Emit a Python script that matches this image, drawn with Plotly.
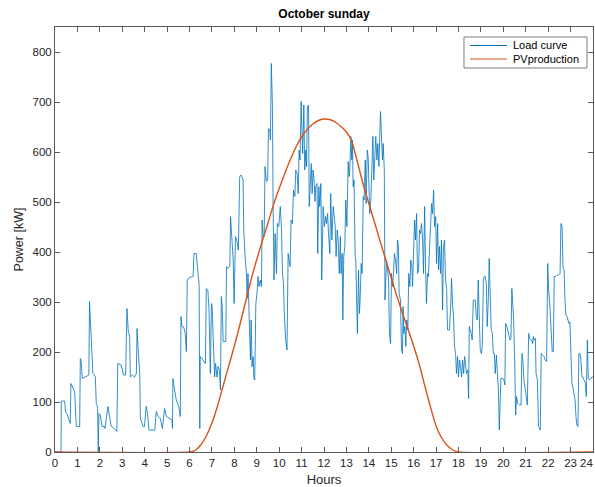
import plotly.graph_objects as go

# Load curve samples: time of day [h] and demand [kW]
load_hours = [
    0.00, 0.27, 0.28, 0.43, 0.47, 0.55, 0.62, 0.68, 0.71, 0.80, 0.875, 0.95, 1.10, 1.13, 1.17, 1.22, 1.35, 1.51, 1.54, 1.58, 1.63, 1.69, 1.75, 1.80, 1.84, 1.90, 1.93,
    1.96, 2.02, 2.10, 2.20, 2.23, 2.36, 2.41, 2.46, 2.51, 2.65, 2.76, 2.80, 2.95, 3.06, 3.15, 3.21, 3.27, 3.33, 3.36, 3.45, 3.55, 3.63, 3.66, 3.72, 3.78, 3.81, 3.93, 3.99,
    4.07, 4.13, 4.19, 4.45, 4.52, 4.60, 4.70, 4.79, 4.89, 4.97, 5.13, 5.22, 5.24, 5.26, 5.31, 5.41, 5.52, 5.59, 5.62, 5.66, 5.74, 5.81, 5.86, 5.90,
    6.00, 6.16, 6.20, 6.30, 6.38, 6.43, 6.46, 6.48, 6.60, 6.71, 6.75, 6.82, 6.87, 6.93, 6.98, 7.01, 7.05, 7.12, 7.16, 7.23, 7.27, 7.34, 7.38, 7.42, 7.46, 7.50, 7.62, 7.65, 7.72, 7.80, 7.83, 7.89, 7.95, 7.99,
    8.05, 8.11, 8.18, 8.24, 8.31, 8.39, 8.42, 8.48, 8.54, 8.57, 8.61, 8.66, 8.72, 8.75, 8.79, 8.84, 8.87, 8.91, 8.96, 9.01, 9.06, 9.10, 9.16, 9.21, 9.24, 9.28, 9.33, 9.37, 9.43, 9.49, 9.52, 9.58, 9.61, 9.65, 9.70, 9.73, 9.77, 9.82, 9.88, 9.92, 9.98,
    10.05, 10.10, 10.15, 10.19, 10.23, 10.29, 10.35, 10.40, 10.44, 10.49, 10.53, 10.59, 10.64, 10.70, 10.74, 10.80, 10.85, 10.89, 10.93, 10.98, 11.02, 11.05, 11.10, 11.14, 11.19, 11.22, 11.26, 11.31, 11.34, 11.38, 11.43, 11.47, 11.51, 11.56, 11.60, 11.63, 11.69, 11.72, 11.77, 11.81, 11.86, 11.90, 11.96,
    12.02, 12.07, 12.11, 12.16, 12.20, 12.26, 12.30, 12.35, 12.41, 12.45, 12.50, 12.54, 12.59, 12.63, 12.68, 12.73, 12.76, 12.81, 12.84, 12.88, 12.93, 12.97, 13.02, 13.08, 13.12, 13.15, 13.20, 13.24, 13.27, 13.30, 13.34, 13.39, 13.42, 13.45, 13.49, 13.54, 13.58, 13.61, 13.66, 13.70, 13.75, 13.79, 13.84, 13.88, 13.93, 13.97,
    14.00, 14.04, 14.09, 14.13, 14.18, 14.22, 14.27, 14.31, 14.36, 14.40, 14.45, 14.49, 14.52, 14.57, 14.61, 14.64, 14.69, 14.72, 14.79, 14.84, 14.88, 14.92, 14.97, 15.01, 15.06, 15.10, 15.14, 15.19, 15.24, 15.28, 15.32, 15.35, 15.41, 15.46, 15.50, 15.53, 15.56, 15.61, 15.65, 15.69, 15.74, 15.78, 15.83, 15.87, 15.92, 15.95, 15.99,
    16.04, 16.08, 16.13, 16.17, 16.22, 16.26, 16.31, 16.35, 16.40, 16.44, 16.49, 16.53, 16.57, 16.62, 16.66, 16.71, 16.75, 16.80, 16.84, 16.89, 16.93, 16.98, 17.02, 17.07, 17.11, 17.15, 17.20, 17.24, 17.29, 17.33, 17.38, 17.42, 17.47, 17.51, 17.56, 17.60, 17.65, 17.69, 17.74, 17.78, 17.82, 17.87, 17.91, 17.96,
    18.00, 18.05, 18.09, 18.14, 18.18, 18.23, 18.27, 18.32, 18.36, 18.41, 18.45, 18.48, 18.52, 18.57, 18.61, 18.66, 18.70, 18.75, 18.79, 18.84, 18.88, 18.93, 18.97, 19.02, 19.06, 19.11, 19.15, 19.19, 19.24, 19.28, 19.33, 19.37, 19.42, 19.46, 19.51, 19.55, 19.60, 19.64, 19.69, 19.73, 19.78, 19.82, 19.87,
    19.89, 19.97, 20.03, 20.07, 20.10, 20.16, 20.22, 20.30, 20.34, 20.38, 20.41, 20.46, 20.50, 20.55, 20.59, 20.64, 20.72, 20.79, 20.83, 20.87, 20.92, 20.96, 21.01, 21.07, 21.13, 21.17, 21.22, 21.27, 21.31, 21.34, 21.38, 21.43, 21.46, 21.52, 21.57, 21.62, 21.65, 21.69, 21.75, 21.81, 21.87, 21.93,
    21.98, 22.02, 22.08, 22.14, 22.18, 22.23, 22.27, 22.35, 22.41, 22.47, 22.53, 22.57, 22.62, 22.66, 22.71, 22.75, 22.79, 22.84, 22.88, 22.93, 22.97, 23.02, 23.06, 23.10, 23.15, 23.20, 23.24, 23.28, 23.33, 23.37, 23.42, 23.46, 23.51, 23.55, 23.60, 23.66, 23.70, 23.75, 23.79, 23.85, 23.90, 23.95, 24.00,
]
load_kw = [
    0, 0, 102, 102, 80, 75, 65, 57, 137, 128, 121, 51, 51, 187, 181, 147, 150, 154, 301, 257, 237, 157, 154, 150, 97, 90, 0,
    77, 74, 51, 51, 47, 91, 77, 71, 51, 47, 41, 177, 174, 154, 154, 287, 241, 231, 150, 154, 150, 157, 247, 197, 157, 67, 51, 51,
    91, 77, 44, 44, 81, 71, 67, 47, 87, 71, 67, 64, 47, 147, 131, 104, 91, 71, 271, 251, 250, 237, 201, 344,
    349, 351, 397, 397, 357, 334, 47, 191, 184, 177, 327, 324, 284, 157, 297, 291, 237, 150, 177, 150, 171, 164, 124, 311, 291, 221, 221, 371, 367, 371, 471, 431, 384, 297,
    431, 424, 404, 551, 554, 544, 444, 391, 357, 307, 357, 271, 184, 264, 171, 191, 150, 144, 297, 317, 351, 331, 344, 331, 464, 431, 431, 571, 541, 544, 647, 644, 624, 777, 691, 491, 344, 437, 357, 457, 451,
    491, 451, 357, 337, 277, 224, 204, 397, 384, 371, 464, 457, 524, 511, 564, 557, 517, 604, 584, 701, 637, 597, 694, 564, 604, 571, 691, 694, 491, 551, 577, 517, 564, 544, 501, 531, 537, 397, 531, 491, 537, 344, 491,
    451, 471, 457, 477, 437, 397, 517, 424, 491, 477, 451, 391, 444, 424, 357, 431, 357, 397, 264, 391, 411, 504, 451, 581, 551, 564, 631, 584, 624, 531, 544, 391, 384, 317, 237, 364, 277, 304, 377, 357, 511, 504, 584, 497, 604, 591,
    544, 477, 504, 557, 631, 544, 591, 631, 584, 617, 571, 644, 681, 624, 584, 617, 564, 304, 384, 364, 344, 237, 217, 357, 331, 357, 397, 384, 357, 424, 411, 317, 304, 204, 197, 291, 237, 251, 211, 264, 244, 357, 331, 384, 371, 331, 384,
    464, 424, 477, 357, 364, 444, 437, 457, 424, 357, 491, 371, 297, 357, 351, 411, 451, 497, 477, 524, 451, 471, 377, 457, 364, 411, 357, 424, 284, 411, 424, 344, 327, 244, 244, 244, 291, 347, 291, 271, 211, 197, 157, 191,
    150, 184, 171, 150, 184, 157, 191, 164, 157, 164, 107, 251, 244, 237, 224, 304, 304, 304, 271, 264, 344, 224, 204, 197, 211, 344, 351, 351, 337, 251, 304, 387, 311, 244, 237, 197, 197, 157, 194, 157, 124, 44, 131,
    147, 147, 144, 134, 257, 251, 237, 224, 227, 327, 304, 264, 197, 74, 111, 97, 94, 94, 197, 184, 144, 131, 104, 94, 237, 227, 224, 224, 217, 231, 224, 227, 157, 144, 51, 44, 44, 197, 194, 191, 184, 181,
    377, 324, 291, 244, 201, 201, 351, 351, 354, 354, 357, 457, 451, 371, 364, 304, 274, 271, 264, 257, 260, 157, 137, 130, 117, 104, 71, 54, 51, 197, 197, 184, 150, 150, 144, 137, 111, 224, 147, 144, 147, 150, 150,
]

# PV production profile [kW]
pv_hours = [0, 6.0, 6.25, 6.5, 6.75, 7.0, 7.25, 7.5, 7.75, 8.0, 8.25, 8.5, 8.75, 9.0, 9.25, 9.5, 9.75,
            10.0, 10.25, 10.5, 10.75, 11.0, 11.25, 11.5, 11.75, 12.0, 12.25, 12.5, 12.75, 13.0, 13.25,
            13.5, 13.75, 14.0, 14.25, 14.5, 14.75, 15.0, 15.25, 15.5, 15.75, 16.0, 16.25, 16.5, 16.75,
            17.0, 17.25, 17.5, 17.75, 18.0, 24]
pv_kw = [0, 0, 3, 14, 32, 58, 92, 132, 172, 212, 255, 300, 345, 385, 422, 458, 495,
         527, 557, 585, 610, 630, 645, 656, 663, 666, 665, 660, 651, 640, 620,
         578, 535, 497, 460, 422, 385, 348, 312, 278, 245, 212, 175, 132, 90,
         52, 28, 13, 4, 0, 0]

hour_ticks = list(range(0, 25))
power_ticks = list(range(0, 900, 100))

FONT = "Liberation Sans, Helvetica, Arial, sans-serif"
AXIS_GREY = "#5a5a5a"
LOAD_COLOR = "#0072BD"
PV_COLOR = "#D95319"

fig = go.Figure()
fig.add_trace(go.Scatter(x=load_hours, y=load_kw, mode="lines", name="Load curve",
                         line=dict(color=LOAD_COLOR, width=0.8), showlegend=False))
fig.add_trace(go.Scatter(x=pv_hours, y=pv_kw, mode="lines", name="PVproduction",
                         line=dict(color=PV_COLOR, width=1.4, shape="spline", smoothing=0.6),
                         showlegend=False))

axis_common = dict(
    showline=True, linecolor=AXIS_GREY, linewidth=1, mirror="ticks",
    ticks="inside", ticklen=5, tickwidth=1, tickcolor=AXIS_GREY,
    showgrid=False, zeroline=False, layer="below traces",
    tickfont=dict(family=FONT, size=11.5, color="#262626"),
)

fig.update_xaxes(range=[0, 24], tickvals=hour_ticks, ticktext=[str(t) for t in hour_ticks[:-1]] + [""],
                 title=dict(text="Hours", font=dict(family=FONT, size=13, color="#262626"), standoff=7),
                 **axis_common)
fig.update_yaxes(range=[0, 850], tickvals=power_ticks,
                 title=dict(text="Power [kW]", font=dict(family=FONT, size=12.5, color="#262626"), standoff=6),
                 **axis_common)

# Last hour label: the axes end at the page border, so keep it just inside the page
annotations = [dict(x=1.0037, y=0, xref="paper", yref="y", text=str(hour_ticks[-1]),
                    showarrow=False, yshift=-11, xanchor="right", yanchor="middle",
                    font=dict(family=FONT, size=11.5, color="#262626"))]

# Boxed legend in the upper-right corner of the axes
shapes = [dict(type="rect", xref="paper", yref="paper", x0=0.7602, x1=0.9888, y0=0.9035, y1=0.9765,
               line=dict(color="#262626", width=0.6), fillcolor="white", layer="above")]
legend_rows = [(fig.data[0].name, LOAD_COLOR, 0.9565), (fig.data[1].name, PV_COLOR, 0.9247)]
for label, color, yrow in legend_rows:
    shapes.append(dict(type="line", xref="paper", yref="paper", x0=0.7714, x1=0.8401, y0=yrow, y1=yrow,
                       line=dict(color=color, width=1.2), layer="above"))
    annotations.append(dict(x=0.8476, y=yrow, xref="paper", yref="paper", text=label, showarrow=False,
                            xanchor="left", yanchor="middle",
                            font=dict(family=FONT, size=11, color="#000000")))

fig.update_layout(
    width=595, height=487,
    margin=dict(l=55, r=2, t=27, b=35),
    paper_bgcolor="white", plot_bgcolor="white",
    font=dict(family=FONT, size=11, color="#262626"),
    title=dict(text="<b>October sunday</b>", x=0.5, xref="paper", xanchor="center",
               y=1 - 14 / 487, yref="container", yanchor="middle",
               font=dict(family=FONT, size=12, color="#000000")),
    shapes=shapes,
    annotations=annotations,
)

fig.write_html("out.html")
